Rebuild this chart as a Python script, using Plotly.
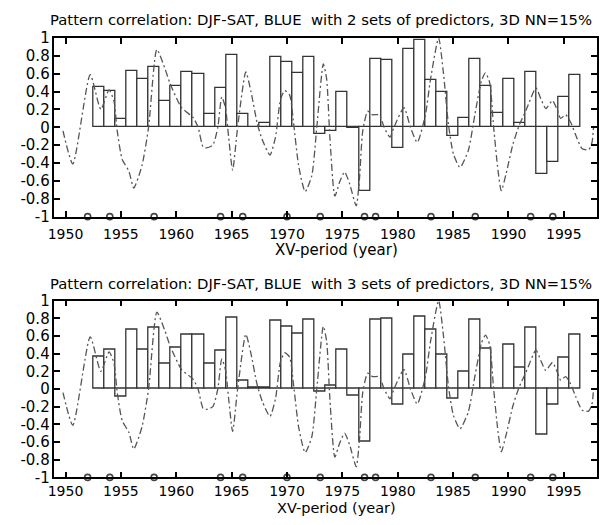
import plotly.graph_objects as go
from plotly.subplots import make_subplots

years = list(range(1953, 1997))
corr_2sets = [0.45, 0.41, 0.09, 0.63, 0.54, 0.67, 0.30, 0.46, 0.62, 0.60, 0.15, 0.44, 0.81,
              0.15, 0.00, 0.05, 0.79, 0.73, 0.61, 0.79, -0.07, -0.04, 0.40, -0.01, -0.71,
              0.76, 0.75, -0.23, 0.88, 0.98, 0.53, 0.40, -0.10, 0.11, 0.77, 0.46, 0.16,
              0.54, 0.05, 0.62, -0.52, -0.39, 0.34, 0.59]
corr_3sets = [0.37, 0.44, -0.09, 0.67, 0.45, 0.70, 0.29, 0.47, 0.62, 0.61, 0.29, 0.43, 0.81,
              0.10, 0.01, 0.01, 0.77, 0.71, 0.63, 0.79, -0.03, 0.04, 0.44, -0.07, -0.59,
              0.78, 0.80, -0.18, 0.39, 0.82, 0.67, 0.39, -0.11, 0.20, 0.78, 0.46, 0.00,
              0.50, 0.24, 0.69, -0.52, -0.18, 0.35, 0.61]

curve_t = [1949.77, 1950.66, 1952.23, 1953.19, 1953.93, 1954.38, 1954.67, 1955.12, 1955.72,
           1956.16, 1956.9, 1957.5, 1958.25, 1959.0, 1959.44, 1960.48, 1961.52, 1961.97,
           1962.42, 1962.71, 1963.3, 1963.75, 1964.11, 1964.44, 1964.73, 1965.09, 1965.54,
           1966.28, 1966.73, 1967.32, 1967.77, 1968.46, 1968.96, 1969.41, 1969.8, 1970.24,
           1970.6, 1971.05, 1971.64, 1972.24, 1972.69, 1973.28, 1973.58, 1973.87, 1974.32,
           1974.76, 1975.2, 1975.65, 1976.25, 1976.54, 1976.84, 1977.29, 1977.73, 1978.33,
           1978.77, 1979.3, 1979.66, 1980.56, 1981.15, 1981.76, 1982.5, 1982.95, 1983.69,
           1984.13, 1984.58, 1985.03, 1985.62, 1986.37, 1986.96, 1987.56, 1987.92, 1988.3,
           1988.66, 1989.05, 1989.35, 1989.8, 1990.4, 1990.99, 1991.58, 1992.48, 1992.92,
           1993.37, 1993.97, 1994.41, 1994.71, 1995.16, 1995.6, 1996.05, 1996.65, 1997.24,
           1997.54, 1997.68]
curve_v = [-0.04, -0.41, 0.59, 0.20, 0.42, 0.29, -0.04, -0.36, -0.49,
           -0.68, -0.43, 0.0, 0.87, 0.65, 0.49, 0.22, 0.11, 0.0,
           -0.22, -0.23, -0.20, 0.0, 0.34, 0.22, -0.11, -0.48, 0.0,
           0.62, 0.41, 0.04, -0.14, -0.31, -0.11, 0.31, 0.41, 0.36,
           0.04, -0.43, -0.72, -0.54, 0.0, 0.71, 0.54, -0.11, -0.77,
           -0.61, -0.50, -0.63, -0.88, -0.58, -0.04, 0.18, 0.14, 0.14,
           0.0, -0.11, 0.0, 0.22, 0.0, -0.17, 0.14, 0.53, 1.0,
           0.60, 0.03, -0.30, -0.45, -0.26, 0.14, 0.52, 0.61, 0.50,
           0.0, -0.48, -0.71, -0.51, -0.19, 0.03, 0.19, 0.44, 0.32,
           0.21, 0.30, 0.19, 0.10, 0.14, 0.06, -0.08, -0.24, -0.25,
           -0.17, 0.0]

marker_years = [1952, 1954, 1958, 1964, 1966, 1970, 1973, 1977, 1978, 1983, 1987, 1992, 1994]
marker_vals = [-1] * len(marker_years)

titles = ["Pattern correlation: DJF-SAT, BLUE  with 2 sets of predictors, 3D NN=15%",
          "Pattern correlation: DJF-SAT, BLUE  with 3 sets of predictors, 3D NN=15%"]
ytick_vals = [-1, -0.8, -0.6, -0.4, -0.2, 0, 0.2, 0.4, 0.6, 0.8, 1]
ytick_text = ["-1", "-0.8", "-0.6", "-0.4", "-0.2", "0", "0.2", "0.4", "0.6", "0.8", "1"]
xtick_vals = [1950, 1955, 1960, 1965, 1970, 1975, 1980, 1985, 1990, 1995]

FONT = "DejaVu Sans"
W, H = 605, 525

fig = make_subplots(rows=2, cols=1)

for row, vals in [(1, corr_2sets), (2, corr_3sets)]:
    fig.add_trace(go.Bar(x=years, y=vals, width=1.0, marker=dict(color="white",
                  line=dict(color="#333333", width=1.3)), showlegend=False), row=row, col=1)
    fig.add_trace(go.Scatter(x=curve_t, y=curve_v, mode="lines",
                  line=dict(color="#555555", width=1.3, dash="7px,3px,2px,3px", shape="spline",
                            smoothing=0.6), showlegend=False), row=row, col=1)
    fig.add_trace(go.Scatter(x=marker_years, y=marker_vals, mode="markers",
                  marker=dict(symbol="circle-open", size=6, color="#444444",
                              line=dict(width=1.6, color="#444444")),
                  showlegend=False, cliponaxis=False), row=row, col=1)

x0, x1 = 48 / W, 597 / W
doms = [(1 - 215 / H, 1 - 30 / H), (1 - 485 / H, 1 - 302 / H)]
standoffs = [4, 0]
for i, (d0, d1) in enumerate(doms, start=1):
    xa = "xaxis" if i == 1 else "xaxis2"
    ya = "yaxis" if i == 1 else "yaxis2"
    fig.layout[xa].update(domain=[x0, x1], range=[1949, 1998], tickvals=xtick_vals,
                          ticks="inside", ticklen=6, tickwidth=1.5, tickcolor="black",
                          showline=True, linecolor="black", linewidth=1.5, mirror="ticks",
                          showgrid=False, zeroline=False, ticklabelstandoff=standoffs[i - 1],
                          tickfont=dict(family=FONT, size=14, color="black"))
    fig.layout[ya].update(domain=[d0, d1], range=[-1, 1], tickvals=ytick_vals,
                          ticktext=ytick_text,
                          ticks="inside", ticklen=6, tickwidth=1.5, tickcolor="black",
                          showline=True, linecolor="black", linewidth=1.5, mirror="ticks",
                          showgrid=False, zeroline=False,
                          tickfont=dict(family=FONT, size=15, color="black"))

annos = []
for title, ty, ay, asz in [(titles[0], 11, 250, 15), (titles[1], 284, 517, 14.5)]:
    annos.append(dict(text=title, x=318 / W, y=1 - ty / H, xref="paper", yref="paper",
                      showarrow=False, xanchor="center", yanchor="middle",
                      font=dict(family=FONT, size=14.8, color="black")))
    annos.append(dict(text="XV-period (year)", x=333 / W, y=1 - ay / H, xref="paper",
                      yref="paper", showarrow=False, xanchor="center", yanchor="middle",
                      font=dict(family=FONT, size=asz, color="black")))

fig.update_layout(width=W, height=H, margin=dict(l=0, r=0, t=0, b=0),
                  paper_bgcolor="white", plot_bgcolor="white", bargap=0,
                  annotations=annos, font=dict(family=FONT))

fig.write_html("out.html")
